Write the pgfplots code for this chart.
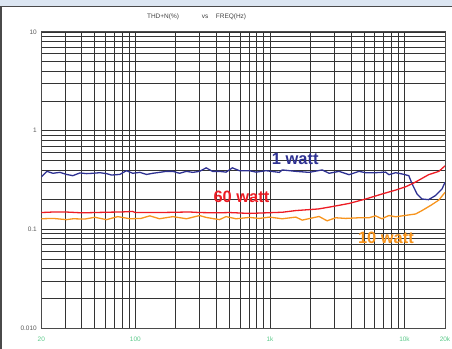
\documentclass[border=0pt]{standalone}
\usepackage{fontspec}
\setmainfont{Liberation Sans}
\usepackage{pgfplots}
\pgfplotsset{compat=1.18}

\definecolor{wattblue}{HTML}{2E3192}
\definecolor{wattred}{HTML}{ED1C24}
\definecolor{wattorange}{HTML}{F7941D}
\definecolor{freqgreen}{HTML}{5CC98A}
\definecolor{barblue}{HTML}{DCE6F2}
\definecolor{framegray}{HTML}{4A4A4A}

\begin{document}
\begin{tikzpicture}
% canvas, title strip and left border
\path[use as bounding box] (0bp,0bp) rectangle (452bp,349bp);
\fill[barblue] (0bp,342bp) rectangle (452bp,349bp);
\draw[framegray,line width=1.4bp] (0bp,342.5bp) -- (452bp,342.5bp);
\draw[framegray,line width=2bp] (1bp,0bp) -- (1bp,342bp);

% heading
\node[font=\fontsize{6.5}{7}\selectfont,text=black!75] at (163bp,332.5bp) {THD+N(\%)};
\node[font=\fontsize{6.5}{7}\selectfont,text=black!75] at (205bp,332.5bp) {vs};
\node[font=\fontsize{6.5}{7}\selectfont,text=black!75] at (231bp,332.5bp) {FREQ(Hz)};

\begin{axis}[
  at={(41.3bp,21bp)}, anchor=south west,
  scale only axis, width=403.7bp, height=296bp,
  xmode=log, ymode=log,
  xmin=20, xmax=20000, ymin=0.01, ymax=10,
  xtick={20,100,1000,10000,20000},
  xticklabels={20,100,1k,10k,20k},
  minor xtick={30,40,50,60,70,80,90,200,300,400,500,600,700,800,900,
               2000,3000,4000,5000,6000,7000,8000,9000},
  ytick={0.01,0.1,1,10},
  yticklabels={{0.010\hspace{8bp}},{0.1\hspace{8bp}},1,10},
  minor ytick={0.02,0.03,0.04,0.05,0.06,0.07,0.08,0.09,
               0.2,0.3,0.4,0.5,0.6,0.7,0.8,0.9,
               2,3,4,5,6,7,8,9},
  major tick length=0pt, minor tick length=0pt,
  grid=both,
  major grid style={black!80,line width=0.8bp},
  minor grid style={black!80,line width=0.8bp},
  axis line style={framegray,line width=1bp},
  /pgf/number format/assume math mode=true,
  xticklabel style={font=\fontsize{6.5}{7}\selectfont,text=freqgreen,yshift=-5bp},
  yticklabel style={font=\fontsize{6.5}{7}\selectfont,text=black!65,xshift=-1bp},
  clip=true,
]

% 1 watt
\addplot[wattblue,line width=1.3bp] coordinates {
(20,0.34) (22,0.387) (24.4,0.37) (27.5,0.378) (30.8,0.36) (34.3,0.35)
(38.7,0.373) (43.4,0.367) (48.5,0.37) (54.4,0.375) (61,0.367) (66.4,0.355)
(76.6,0.36) (85.8,0.393) (95.5,0.37) (108,0.378) (121,0.36) (135,0.37)
(151,0.378) (170,0.387) (190,0.387) (213,0.37) (239,0.387) (267,0.378)
(300,0.387) (336,0.42) (374,0.387) (421,0.387) (472,0.38) (526,0.42)
(593,0.393) (703,0.393) (789,0.38) (935,0.393) (1174,0.378) (1235,0.40)
(1558,0.387) (1956,0.378) (2445,0.40) (2752,0.37) (3266,0.387) (3873,0.358)
(4593,0.387) (5146,0.375) (6100,0.375) (7240,0.38) (7660,0.358) (8590,0.375)
(9600,0.364) (10760,0.35) (11400,0.288) (12400,0.228) (13500,0.203)
(15100,0.20) (17000,0.22) (19000,0.256) (20000,0.30)
};

% 60 watt
\addplot[wattred,line width=1.3bp] coordinates {
(20,0.148) (25,0.150) (30,0.150) (40,0.147) (50,0.148) (60,0.149) (80,0.150)
(95,0.152) (100,0.148) (150,0.148) (200,0.149) (250,0.150) (300,0.148)
(400,0.147) (500,0.148) (703,0.145) (1235,0.149) (1558,0.155) (2300,0.161)
(2900,0.17) (3873,0.183) (5146,0.203) (6800,0.228) (8590,0.25) (10200,0.27)
(12000,0.30) (15100,0.358) (18000,0.387) (20000,0.44)
};

% 10 watt
\addplot[wattorange,line width=1.3bp] coordinates {
(20,0.128) (24.5,0.129) (30.8,0.1254) (34.5,0.128) (42,0.127) (50,0.1325)
(61,0.1254) (74,0.1345) (91,0.128) (110,0.129) (128,0.137) (151,0.128)
(190,0.1345) (240,0.128) (300,0.138) (336,0.132) (421,0.1254) (472,0.1345)
(560,0.128) (703,0.132) (834,0.129) (989,0.133) (1235,0.128) (1558,0.133)
(1737,0.124) (2318,0.135) (2660,0.122) (3085,0.131) (3657,0.129) (4593,0.131)
(5443,0.131) (6100,0.137) (6790,0.128) (7660,0.138) (8590,0.134) (10760,0.14)
(12080,0.143) (13500,0.155) (16000,0.178) (18000,0.198) (20000,0.237)
};

\node[font=\fontsize{16.5}{18}\selectfont\bfseries,text=wattblue] at (axis cs:1541,0.52) {1 watt};
\node[font=\fontsize{16.5}{18}\selectfont\bfseries,text=wattred] at (axis cs:614,0.214) {60 watt};
\node[font=\fontsize{16.5}{18}\selectfont\bfseries,text=wattorange] at (axis cs:7280,0.0824) {10 watt};
\end{axis}
\end{tikzpicture}
\end{document}
